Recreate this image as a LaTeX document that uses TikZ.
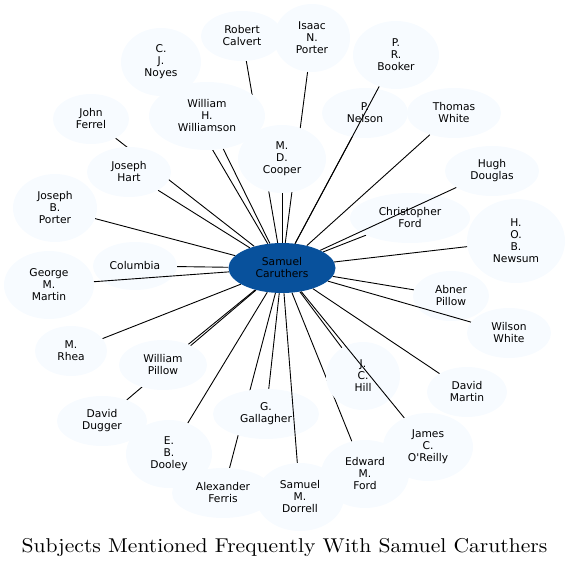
\documentclass[tikz,border=0pt]{standalone}
\usepackage{fontspec}
\newfontfamily\labelfont{DejaVu Sans}
\newfontfamily\titlefont[FakeStretch=1.08]{lmroman10-regular.otf}
\usepackage{tikz}
\usetikzlibrary{shapes.geometric,backgrounds}
\definecolor{hub}{HTML}{08519C}
\definecolor{leaf}{HTML}{F7FBFF}
\tikzset{
  subj/.style    = {ellipse, fill=leaf, inner sep=0pt, align=center,
                    font=\labelfont\fontsize{10.7}{12}\selectfont},
  hubnode/.style = {subj, fill=hub},
  link/.style    = {draw=black, line width=0.9pt},
}

\begin{document}
\begin{tikzpicture}[x=1pt, y=-1pt]
  \useasboundingbox (0,0) rectangle (571,567);
  \node[hubnode, minimum width=107, minimum height=50] (sc) at (282,268) {Samuel\\Caruthers};
  \foreach \n/\x/\y/\w/\h/\lab in {
      calvert/242/36/82/50/{Robert\\Calvert}, iporter/312/38/76/68/{Isaac\\N.\\Porter},
      noyes/161/62/80/68/{C.\\J.\\Noyes}, booker/396/55/86/68/{P.\\R.\\Booker},
      ferrel/91/119/76/50/{John\\Ferrel}, williamson/207/116/116/68/{William\\H.\\Williamson},
      nelson/365/113/86/50/{P.\\Nelson}, twhite/454/113/94/50/{Thomas\\White},
      cooper/282/159/88/68/{M.\\D.\\Cooper}, douglas/492/171/94/50/{Hugh\\Douglas},
      hart/129/172/84/50/{Joseph\\Hart}, jbporter/55/208/84/68/{Joseph\\B.\\Porter},
      cford/410/218/120/50/{Christopher\\Ford}, newsum/516/241/98/84/{H.\\O.\\B.\\Newsum},
      columbia/135/266/84/48/{Columbia}, gmartin/49/285/90/68/{George\\M.\\Martin},
      apillow/451/296/76/50/{Abner\\Pillow}, wwhite/509/333/84/50/{Wilson\\White},
      rhea/71/351/72/50/{M.\\Rhea}, wpillow/163/365/88/50/{William\\Pillow},
      hill/363/376/74/68/{J.\\C.\\Hill}, dmartin/467/392/80/50/{David\\Martin},
      dugger/102/421/90/50/{David\\Dugger}, gallagher/266/414/106/50/{G.\\Gallagher},
      dooley/169/454/86/68/{E.\\B.\\Dooley}, oreilly/428/447/90/68/{James\\C.\\O'Reilly},
      eford/365/474/88/68/{Edward\\M.\\Ford}, ferris/223/493/102/50/{Alexander\\Ferris},
      dorrell/300/497/88/68/{Samuel\\M.\\Dorrell}}
    \node[subj, minimum width=\w, minimum height=\h] (\n) at (\x,\y) {\lab};

  % these run under the subjects they cross
  \begin{scope}[on background layer]
    \foreach \n in {calvert, iporter, noyes, ferrel, williamson, nelson, twhite, cooper,
                    hart, jbporter, cford, newsum, columbia, apillow, rhea, wpillow, hill,
                    dmartin, dugger, gallagher, dooley, eford, ferris}
      \draw[link] (sc) -- (\n);
  \end{scope}
  \foreach \n in {booker, douglas, gmartin, wwhite, oreilly, dorrell}
    \draw[link] (sc) -- (\n);

  \node[font=\titlefont\fontsize{20}{24}\selectfont, anchor=base] (title) at (284.5,552)
    {Subjects Mentioned Frequently With Samuel Caruthers};
\end{tikzpicture}
\end{document}
